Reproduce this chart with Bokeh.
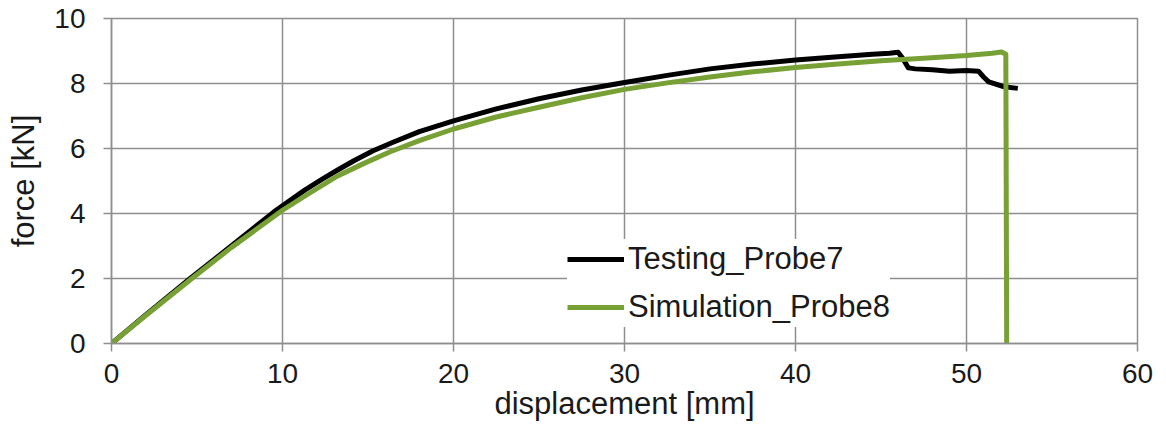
from bokeh.plotting import figure
from bokeh.embed import file_html
from bokeh.resources import INLINE
from bokeh.models import Legend, LegendItem, FixedTicker, Range1d

# ---- data ----
test_x = [0, 2, 4.6, 7, 9.5, 11.3, 12.3, 13.2, 14.2, 15.3, 16.5, 18, 20, 22.5, 25,
          27.5, 30, 32.5, 35, 37.5, 40, 42.5, 44.5, 45.5, 46.0, 46.3, 46.6, 47, 48,
          49, 50, 50.7, 51.0, 51.3, 52.2, 53.0]
test_y = [0, 0.88, 2.0, 3.0, 4.05, 4.72, 5.05, 5.33, 5.63, 5.93, 6.2, 6.52, 6.85,
          7.22, 7.53, 7.8, 8.03, 8.25, 8.45, 8.6, 8.72, 8.82, 8.9, 8.93, 8.96, 8.75,
          8.48, 8.45, 8.42, 8.38, 8.4, 8.38, 8.2, 8.05, 7.9, 7.85]

sim_x = [0, 2, 4.7, 7, 10, 11.5, 13.2, 14.8, 16.3, 18, 20, 22.5, 25, 27.5, 30, 32.5,
         35, 37.5, 40, 42.5, 45, 47.5, 50, 51.5, 52.05, 52.3, 52.35]
sim_y = [0, 0.86, 2.0, 2.95, 4.1, 4.6, 5.15, 5.55, 5.9, 6.24, 6.6, 6.97, 7.27, 7.56,
         7.82, 8.02, 8.2, 8.36, 8.49, 8.6, 8.7, 8.78, 8.86, 8.93, 8.97, 8.9, 0]

x_ticks = [0, 10, 20, 30, 40, 50, 60]
y_ticks = [0, 2, 4, 6, 8, 10]
labels = ["Testing_Probe7", "Simulation_Probe8"]
x_label = "displacement [mm]"
y_label = "force [kN]"

GREEN = "#77a035"
GRID = "#8e8e8e"
FONT = "Liberation Sans"

p = figure(width=1159, height=429, output_backend="svg",
           toolbar_location=None, x_range=Range1d(0, 60), y_range=Range1d(0, 10),
           min_border_left=111, min_border_top=18, min_border_right=22,
           min_border_bottom=86)

p.background_fill_color = "white"
p.border_fill_color = "white"
p.outline_line_color = GRID
p.outline_line_width = 1.5

for ax in (p.xaxis[0], p.yaxis[0]):
    ax.major_label_text_font = FONT
    ax.major_label_text_font_size = "28px"
    ax.major_label_text_color = "#1a1a1a"
    ax.axis_label_text_font = FONT
    ax.axis_label_text_font_size = "31px"
    ax.axis_label_text_font_style = "normal"
    ax.axis_label_text_color = "#1a1a1a"
    ax.axis_line_color = GRID
    ax.axis_line_width = 1.5
    ax.major_tick_line_color = GRID
    ax.major_tick_line_width = 1.5
    ax.major_tick_out = 8
    ax.major_tick_in = 0
    ax.minor_tick_line_color = None

p.xaxis[0].ticker = FixedTicker(ticks=x_ticks)
p.yaxis[0].ticker = FixedTicker(ticks=y_ticks)
p.xaxis[0].axis_label = x_label
p.yaxis[0].axis_label = y_label
p.xaxis[0].major_label_standoff = 12
p.yaxis[0].major_label_standoff = 18
p.xaxis[0].axis_label_standoff = 0
p.yaxis[0].axis_label_standoff = 10

p.xgrid.ticker = FixedTicker(ticks=x_ticks)
p.ygrid.ticker = FixedTicker(ticks=y_ticks)
for g in (p.xgrid[0], p.ygrid[0]):
    g.grid_line_color = GRID
    g.grid_line_width = 1.5

r_test = p.line(test_x, test_y, line_color="black", line_width=5, line_join="round")
r_sim = p.line(sim_x, sim_y, line_color=GREEN, line_width=5, line_join="round")

legend = Legend(items=[LegendItem(label=labels[0], renderers=[r_test]),
                       LegendItem(label=labels[1], renderers=[r_sim])],
                location=(456, 16), orientation="vertical")
legend.label_text_font = FONT
legend.label_text_font_size = "31px"
legend.label_text_color = "#1a1a1a"
legend.border_line_color = None
legend.background_fill_color = "white"
legend.background_fill_alpha = 1.0
legend.glyph_width = 57
legend.glyph_height = 40
legend.label_height = 40
legend.label_standoff = 4
legend.spacing = 8
legend.padding = 6
legend.margin = 0
p.add_layout(legend, "center")

open("out.html", "w").write(file_html(p, INLINE))
